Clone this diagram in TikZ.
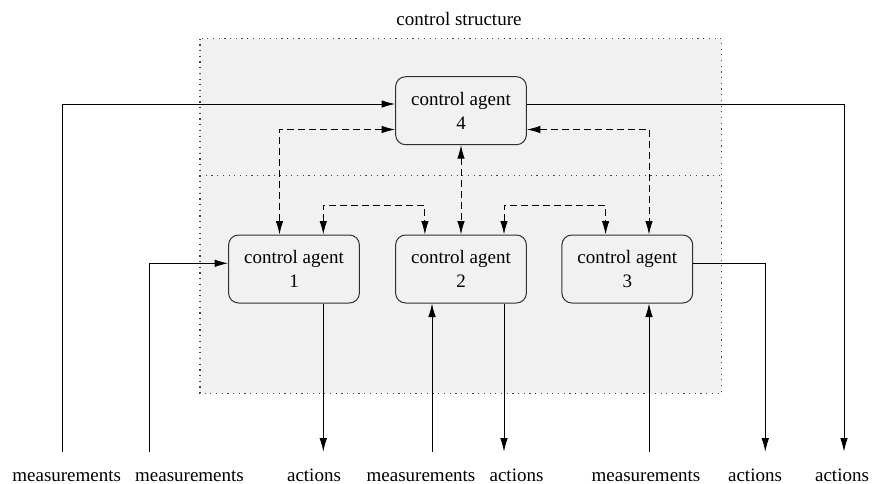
\documentclass[tikz,border=0pt]{standalone}
\usepackage{fontspec}
\setmainfont{Liberation Serif}
\usetikzlibrary{arrows.meta,calc}
\definecolor{regionfill}{HTML}{F1F1F1}
\definecolor{dotgray}{HTML}{444444}
\definecolor{boxline}{HTML}{303030}
\begin{document}
\begin{tikzpicture}[x=1pt,y=-1pt,
  font=\fontsize{19}{24}\selectfont,
  agent/.style={draw=boxline, line width=1pt, fill=regionfill, rounded corners=10pt,
    minimum width=130.8pt, minimum height=68pt, align=center, inner sep=0pt},
  dotline/.style={draw=dotgray, line width=1.2pt, dash pattern=on 1.2pt off 4.5pt},
  flow/.style={line width=0.9pt, -{Latex[length=13.5pt,width=7.5pt]}},
  plainline/.style={line width=0.9pt},
  dflow/.style={line width=0.9pt, dash pattern=on 7pt off 4pt,
    {Latex[length=13.5pt,width=7.5pt]}-{Latex[length=13.5pt,width=7.5pt]}},
  lbl/.style={anchor=base, inner sep=0pt}
]
\useasboundingbox (0,0) rectangle (873,484);
% control structure region
\fill[regionfill] (200,38.7) rectangle (721.7,393.3);
\draw[dotline] (200,38.7) rectangle (721.7,393.3);
\draw[dotline] (200,175.3) -- (721.7,175.3);
\node[lbl] (cs) at (459,25.5) {control structure};

% agents
\node[agent] (a4) at (461,110.7) {control agent\\4};
\node[agent] (a1) at (294,269) {control agent\\1};
\node[agent] (a2) at (461,269) {control agent\\2};
\node[agent] (a3) at (627.3,269) {control agent\\3};

% bottom labels
\node[lbl] (m1) at (66.7,481) {measurements};
\node[lbl] (m2) at (189.5,481) {measurements};
\node[lbl] (c1) at (314,481) {actions};
\node[lbl] (m3) at (421,481) {measurements};
\node[lbl] (c2) at (516.5,481) {actions};
\node[lbl] (m4) at (646,481) {measurements};
\node[lbl] (c3) at (755,481) {actions};
\node[lbl] (c4) at (842,481) {actions};

% free ends of the signal lines
\coordinate (pm1) at (62.3,451.7);
\coordinate (pm2) at (149.3,451.7);
\coordinate (pc1) at (323.3,451.7);
\coordinate (pm3) at (432,451.7);
\coordinate (pc2) at (504,451.7);
\coordinate (pm4) at (649,451.7);
\coordinate (pc3) at (765.3,451.7);
\coordinate (pc4) at (844,451.7);

% measurements / actions
\draw[flow] (pm1) |- ([yshift=6.7pt]a4.west);
\draw[flow] (pm2) |- ([yshift=5.7pt]a1.west);
\draw[flow] (a1.south -| pc1) -- (pc1);
\draw[flow] (pm3) -- (a2.south -| pm3);
\draw[flow] (a2.south -| pc2) -- (pc2);
\draw[flow] (pm4) -- (a3.south -| pm4);
\draw[flow] ([yshift=5.7pt]a3.east) -| (pc3);
\draw[flow] ([yshift=6.7pt]a4.east) -| (pc4);

% communication (dashed)
\draw[dflow] ([yshift=-18.8pt]a4.west) -| ([xshift=-14.5pt]a1.north);
\draw[dflow] (a4.south) -- (a2.north);
\draw[dflow] ([yshift=-18.8pt]a4.east) -| ([xshift=21.7pt]a3.north);
\draw[dflow] ([xshift=29.3pt]a1.north) -- ++(0,-29) -| ([xshift=-36.1pt]a2.north);
\draw[dflow] ([xshift=43pt]a2.north) -- ++(0,-29) -| ([xshift=-21.7pt]a3.north);
\end{tikzpicture}
\end{document}
